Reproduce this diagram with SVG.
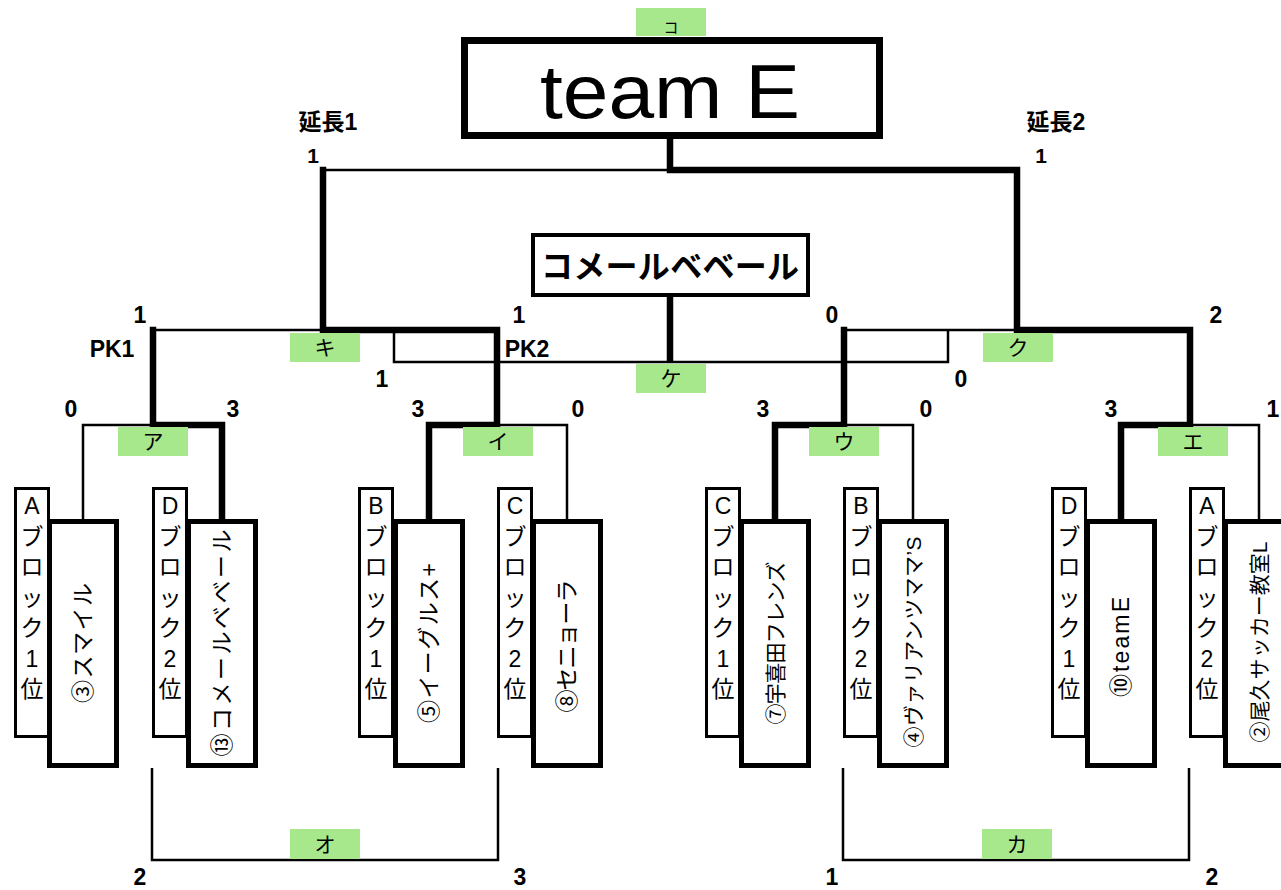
<svg xmlns="http://www.w3.org/2000/svg" width="1281" height="890" viewBox="0 0 1281 890">
<style>
text{font-family:"Liberation Sans","Noto Sans CJK JP",sans-serif;fill:#000}
.thin{fill:none;stroke:#000;stroke-width:2.5}
.thick{fill:none;stroke:#000;stroke-width:6.5;stroke-linejoin:miter;stroke-linecap:square}
.team rect{fill:#fff;stroke:#000;stroke-width:5}
.blk rect{fill:#fff;stroke:#000;stroke-width:3}
.blk text{font-size:23px;text-anchor:middle;dominant-baseline:central}
.team text{font-size:23px;text-anchor:middle;dominant-baseline:central}
.lbl rect{fill:#a8e88c}
.lbl text{font-size:21px;text-anchor:middle}
.num{font-size:23px;font-weight:bold;text-anchor:middle}
</style>
<rect width="1281" height="890" fill="#fff"/>

<g id="connectors">
<path class="thin" d="M83,519 V425 H153"/>
<path class="thin" d="M567,519 V425 H497"/>
<path class="thin" d="M913,519 V425 H844"/>
<path class="thin" d="M1259,519 V425 H1190"/>
<path class="thin" d="M153,330 H323"/>
<path class="thin" d="M844,330 H1017"/>
<path class="thin" d="M323,170 H670"/>
<path class="thin" d="M394,330 V362 H948 V330"/>
<path class="thin" d="M152,768 V860 H498 V768"/>
<path class="thin" d="M843,768 V860 H1189 V768"/>
<path class="thick" d="M222,519 V425 H153 V330"/>
<path class="thick" d="M429,519 V425 H497 V330 H323 V170"/>
<path class="thick" d="M775,519 V425 H844 V330"/>
<path class="thick" d="M1121,519 V425 H1190 V330 H1017 V170 H670 V140"/>
<path class="thick" d="M670,297 V362" style="stroke-linecap:butt"/>
</g>

<g id="champion">
<rect x="464.5" y="40.5" width="415" height="95" fill="#fff" stroke="#000" stroke-width="7"/>
<text x="670" y="118" font-size="76" text-anchor="middle" textLength="260" lengthAdjust="spacingAndGlyphs">team E</text>
</g>
<g id="runnerup">
<rect x="533" y="235" width="275" height="60" fill="#fff" stroke="#000" stroke-width="4"/>
<text x="670" y="278" font-size="32" font-weight="bold" text-anchor="middle" textLength="258">コメールベベール</text>
</g>

<g id="labels">
<g class="lbl" id="m-ko"><rect x="636" y="8" width="70" height="28"/><text x="671" y="33" style="font-size:15px">コ</text></g>
<g class="lbl" id="m-ki"><rect x="290" y="333" width="70" height="29"/><text x="325" y="355">キ</text></g>
<g class="lbl" id="m-ku"><rect x="983" y="333" width="70" height="29"/><text x="1018" y="355">ク</text></g>
<g class="lbl" id="m-ke"><rect x="636" y="364" width="70" height="29"/><text x="671" y="386">ケ</text></g>
<g class="lbl" id="m-a"><rect x="118" y="427" width="70" height="29"/><text x="153" y="449">ア</text></g>
<g class="lbl" id="m-i"><rect x="463" y="427" width="70" height="29"/><text x="498" y="449">イ</text></g>
<g class="lbl" id="m-u"><rect x="809" y="427" width="70" height="29"/><text x="844" y="449">ウ</text></g>
<g class="lbl" id="m-e"><rect x="1158" y="427" width="70" height="29"/><text x="1193" y="449">エ</text></g>
<g class="lbl" id="m-o"><rect x="290" y="829" width="70" height="30"/><text x="325" y="852">オ</text></g>
<g class="lbl" id="m-ka"><rect x="982" y="829" width="70" height="30"/><text x="1017" y="852">カ</text></g>
</g>

<g id="scores">
<text class="num" x="328" y="130">延長1</text>
<text class="num" x="1056" y="130">延長2</text>
<text class="num" x="313" y="163" style="font-size:21px">1</text>
<text class="num" x="1041" y="163" style="font-size:21px">1</text>
<text class="num" x="140" y="323">1</text>
<text class="num" x="519" y="323">1</text>
<text class="num" x="112" y="357">PK1</text>
<text class="num" x="527" y="357">PK2</text>
<text class="num" x="382" y="387">1</text>
<text class="num" x="832" y="323">0</text>
<text class="num" x="1216" y="323">2</text>
<text class="num" x="961" y="387">0</text>
<text class="num" x="71" y="417">0</text>
<text class="num" x="233" y="417">3</text>
<text class="num" x="418" y="417">3</text>
<text class="num" x="578" y="417">0</text>
<text class="num" x="763" y="417">3</text>
<text class="num" x="926" y="417">0</text>
<text class="num" x="1111" y="417">3</text>
<text class="num" x="1273" y="417">1</text>
<text class="num" x="140" y="885">2</text>
<text class="num" x="520" y="885">3</text>
<text class="num" x="832" y="885">1</text>
<text class="num" x="1212" y="885">2</text>
</g>

<g id="blk-a1" class="blk"><rect x="15.5" y="488.5" width="33" height="248"/><text><tspan x="32" y="506">A</tspan><tspan x="32" y="537">ブ</tspan><tspan x="32" y="567">ロ</tspan><tspan x="32" y="598">ッ</tspan><tspan x="32" y="628">ク</tspan><tspan x="32" y="659">1</tspan><tspan x="32" y="689">位</tspan></text></g>
<g id="team-3" class="team"><rect x="49.5" y="521.5" width="67" height="244"/><text transform="translate(83,643) rotate(-90)" textLength="120">③スマイル</text></g>

<g id="blk-d2" class="blk"><rect x="153.5" y="488.5" width="33" height="248"/><text><tspan x="170" y="506">D</tspan><tspan x="170" y="537">ブ</tspan><tspan x="170" y="567">ロ</tspan><tspan x="170" y="598">ッ</tspan><tspan x="170" y="628">ク</tspan><tspan x="170" y="659">2</tspan><tspan x="170" y="689">位</tspan></text></g>
<g id="team-13" class="team"><rect x="188.5" y="521.5" width="67" height="244"/><text transform="translate(222,643) rotate(-90)" textLength="227">⑬コメールベベール</text></g>

<g id="blk-b1" class="blk"><rect x="359.5" y="488.5" width="33" height="248"/><text><tspan x="376" y="506">B</tspan><tspan x="376" y="537">ブ</tspan><tspan x="376" y="567">ロ</tspan><tspan x="376" y="598">ッ</tspan><tspan x="376" y="628">ク</tspan><tspan x="376" y="659">1</tspan><tspan x="376" y="689">位</tspan></text></g>
<g id="team-5" class="team"><rect x="395.5" y="521.5" width="67" height="244"/><text transform="translate(429,643) rotate(-90)" textLength="160">⑤イーグルス+</text></g>

<g id="blk-c2" class="blk"><rect x="498.5" y="488.5" width="33" height="248"/><text><tspan x="515" y="506">C</tspan><tspan x="515" y="537">ブ</tspan><tspan x="515" y="567">ロ</tspan><tspan x="515" y="598">ッ</tspan><tspan x="515" y="628">ク</tspan><tspan x="515" y="659">2</tspan><tspan x="515" y="689">位</tspan></text></g>
<g id="team-8" class="team"><rect x="533.5" y="521.5" width="67" height="244"/><text transform="translate(567,646) rotate(-90)" textLength="133">⑧セニョーラ</text></g>

<g id="blk-c1" class="blk"><rect x="706.5" y="488.5" width="33" height="248"/><text><tspan x="723" y="506">C</tspan><tspan x="723" y="537">ブ</tspan><tspan x="723" y="567">ロ</tspan><tspan x="723" y="598">ッ</tspan><tspan x="723" y="628">ク</tspan><tspan x="723" y="659">1</tspan><tspan x="723" y="689">位</tspan></text></g>
<g id="team-7" class="team"><rect x="741.5" y="521.5" width="67" height="244"/><text transform="translate(775,643) rotate(-90)" textLength="163" style="font-size:21px">⑦宇喜田フレンズ</text></g>

<g id="blk-b2" class="blk"><rect x="844.5" y="488.5" width="33" height="248"/><text><tspan x="861" y="506">B</tspan><tspan x="861" y="537">ブ</tspan><tspan x="861" y="567">ロ</tspan><tspan x="861" y="598">ッ</tspan><tspan x="861" y="628">ク</tspan><tspan x="861" y="659">2</tspan><tspan x="861" y="689">位</tspan></text></g>
<g id="team-4" class="team"><rect x="879.5" y="521.5" width="67" height="244"/><text transform="translate(913,642) rotate(-90)" textLength="211" style="font-size:21px">④ヴァリアンツママ’S</text></g>

<g id="blk-d1" class="blk"><rect x="1052.5" y="488.5" width="33" height="248"/><text><tspan x="1069" y="506">D</tspan><tspan x="1069" y="537">ブ</tspan><tspan x="1069" y="567">ロ</tspan><tspan x="1069" y="598">ッ</tspan><tspan x="1069" y="628">ク</tspan><tspan x="1069" y="659">1</tspan><tspan x="1069" y="689">位</tspan></text></g>
<g id="team-10" class="team"><rect x="1087.5" y="521.5" width="67" height="244"/><text transform="translate(1121,647) rotate(-90)" textLength="100">⑩teamE</text></g>

<g id="blk-a2" class="blk"><rect x="1190.5" y="488.5" width="33" height="248"/><text><tspan x="1207" y="506">A</tspan><tspan x="1207" y="537">ブ</tspan><tspan x="1207" y="567">ロ</tspan><tspan x="1207" y="598">ッ</tspan><tspan x="1207" y="628">ク</tspan><tspan x="1207" y="659">2</tspan><tspan x="1207" y="689">位</tspan></text></g>
<g id="team-2" class="team"><rect x="1225.5" y="521.5" width="67" height="244"/><text transform="translate(1259,642) rotate(-90)" textLength="201" style="font-size:21px">②尾久サッカー教室L</text></g>
</svg>
